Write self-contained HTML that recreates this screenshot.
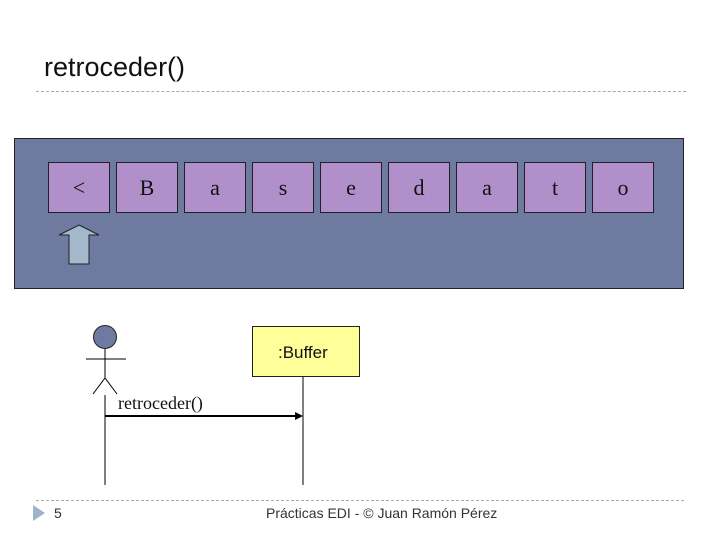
<!DOCTYPE html>
<html><head><style>
body{margin:0;width:720px;height:540px;background:#fff;position:relative;overflow:hidden;font-family:"Liberation Sans",sans-serif}
.a{position:absolute}
.box{position:absolute;top:162px;width:62px;height:51px;background:#b18fcb;border:1px solid #222;box-sizing:border-box;font-family:"Liberation Serif",serif;font-size:22px;text-align:center;line-height:50px;color:#111}
</style></head><body>
<div class="a" style="left:44px;top:52px;font-size:27px;color:#111">retroceder()</div>
<div class="a" style="left:36px;top:91px;width:650px;border-top:1px dashed #aaa"></div>
<div class="a" style="left:14px;top:138px;width:670px;height:151px;background:#6e7aa0;border:1px solid #222;box-sizing:border-box"></div>
<div class="box" style="left:48px">&lt;</div>
<div class="box" style="left:116px">B</div>
<div class="box" style="left:184px">a</div>
<div class="box" style="left:252px">s</div>
<div class="box" style="left:320px">e</div>
<div class="box" style="left:388px">d</div>
<div class="box" style="left:456px">a</div>
<div class="box" style="left:524px">t</div>
<div class="box" style="left:592px">o</div>
<svg class="a" style="left:0;top:0" width="720" height="540">
<polygon points="79,225 99,235 89,235 89,264 69,264 69,235 59,235" fill="#a4b8cc" stroke="#222" stroke-width="1"/>
<circle cx="105" cy="337" r="11.5" fill="#6e7aa0" stroke="#222"/>
<line x1="105" y1="349" x2="105" y2="378" stroke="#000"/>
<line x1="86" y1="359" x2="126" y2="359" stroke="#000"/>
<line x1="105" y1="378" x2="93" y2="394" stroke="#000"/>
<line x1="105" y1="378" x2="117" y2="394" stroke="#000"/>
<line x1="105" y1="395" x2="105" y2="485" stroke="#000"/>
<rect x="252.5" y="326.5" width="107" height="50" fill="#ffff99" stroke="#222"/>
<line x1="303" y1="377" x2="303" y2="485" stroke="#000"/>
<line x1="105" y1="416" x2="297" y2="416" stroke="#000" stroke-width="2"/>
<polygon points="303,416 295,412 295,420" fill="#000"/>
<line x1="36" y1="500.5" x2="686" y2="500.5" stroke="#aaa" stroke-dasharray="3,2"/>
<polygon points="33,505 45,513 33,521" fill="#9fb4cc"/>
</svg>
<div class="a" style="left:278px;top:343px;font-size:17px;color:#111">:Buffer</div>
<div class="a" style="left:118px;top:393px;font-family:'Liberation Serif',serif;font-size:18px;color:#111">retroceder()</div>
<div class="a" style="left:54px;top:505px;font-size:14px;color:#333">5</div>
<div class="a" style="left:266px;top:505px;font-size:14px;color:#333">Prácticas EDI - © Juan Ramón Pérez</div>
</body></html>
